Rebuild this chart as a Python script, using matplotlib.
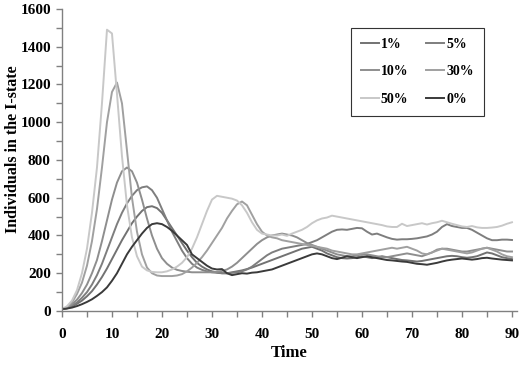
import matplotlib
matplotlib.use("Agg")
import matplotlib.pyplot as plt
from matplotlib.ticker import MultipleLocator

# Time steps 0..90
time = list(range(91))

inf_50 = [10, 25, 55, 110, 200, 330, 520, 760, 1100, 1490, 1470,
          1150, 820, 560, 390, 290, 235, 215, 207, 205, 205,
          210, 220, 235, 255, 285, 330, 390, 460, 530, 590,
          610, 605, 600, 595, 585, 560, 520, 470, 430, 410,
          405, 400, 400, 405, 398, 410, 420, 430, 445, 465,
          480, 490, 495, 505, 500, 495, 490, 485, 480, 475,
          470, 465, 460, 455, 448, 445, 445, 462, 450, 455,
          460, 465, 458, 465, 470, 478, 470, 462, 455, 448,
          445, 450, 443, 440, 440, 442, 445, 452, 462, 470]

inf_30 = [10, 20, 45, 90, 150, 240, 370, 540, 760, 1000, 1160,
          1210, 1100, 850, 600, 420, 300, 230, 200, 188, 185,
          185, 185, 188, 195, 210, 230, 255, 285, 320, 360,
          400, 440, 490, 530, 565, 580, 560, 510, 460, 420,
          400, 390, 385, 375, 370, 365, 360, 355, 350, 345,
          340, 335, 330, 320, 315, 310, 305, 300, 300, 305,
          310, 315, 320, 325, 330, 335, 330, 335, 340, 330,
          320, 305, 300, 310, 320, 330, 325, 320, 315, 310,
          305, 310, 320, 330, 335, 325, 315, 300, 290, 285]

inf_10 = [10, 18, 35, 60, 95, 140, 200, 270, 370, 480, 590,
          680, 740, 760, 740, 680, 590, 490, 400, 330, 280,
          250, 230, 218, 212, 208, 205, 205, 205, 205, 205,
          207, 212, 220, 235, 255, 280, 305, 330, 355, 375,
          390, 400, 405, 410, 405, 400, 390, 375, 360, 350,
          340, 330, 320, 310, 300, 295, 290, 290, 295, 300,
          300, 295, 290, 285, 285, 290, 295, 300, 305, 300,
          295, 290, 300, 310, 325, 330, 330, 325, 320, 315,
          315, 320, 325, 330, 335, 330, 325, 320, 315, 315]

inf_5 = [10, 15, 28, 45, 70, 100, 140, 190, 250, 320, 390,
         460, 520, 570, 610, 640, 655, 660, 640, 600, 540,
         480, 420, 370, 320, 280, 250, 230, 218, 210, 205,
         202, 200, 200, 202, 205, 210, 220, 235, 255, 275,
         295, 310, 320, 330, 335, 340, 345, 350, 355, 365,
         375, 390, 405, 420, 430, 432, 430, 435, 440, 438,
         420, 405, 410, 400, 390, 382, 378, 380, 380, 382,
         385, 390, 395, 405, 420, 445, 460, 450, 445, 440,
         440, 430, 415, 400, 385, 375, 375, 378, 378, 376]

inf_1 = [10, 14, 24, 38, 55, 78, 105, 140, 180, 225, 275,
         325, 375, 420, 465, 500, 530, 550, 555, 545, 520,
         480, 440, 400, 360, 320, 285, 255, 235, 220, 210,
         205, 200, 200, 205, 210, 215, 222, 230, 240, 250,
         260, 270, 280, 290, 300, 310, 320, 330, 335, 340,
         330, 320, 305, 295, 285, 280, 278, 280, 285, 290,
         285, 280, 285, 290, 285, 280, 275, 270, 268, 265,
         262, 265, 270, 275, 280, 285, 290, 292, 290, 285,
         282, 285, 290, 300, 310, 305, 295, 285, 280, 275]

inf_0 = [10, 13, 18, 26, 36, 48, 62, 80, 100, 125, 160,
         200, 250, 300, 340, 375, 410, 440, 460, 465, 460,
         445, 425, 400, 375, 350, 300, 280, 260, 240, 225,
         220, 222, 200, 190, 195, 200, 198, 203, 205, 210,
         215, 220, 230, 240, 250, 260, 270, 280, 290, 300,
         305, 300, 290, 280, 275, 282, 290, 285, 280, 285,
         290, 285, 280, 275, 270, 268, 265, 262, 260, 255,
         250, 248, 245, 250, 255, 262, 268, 272, 275, 278,
         275, 272, 275, 280, 282, 278, 275, 272, 270, 268]

series = [
    ("1%", inf_1, "#727272"),
    ("5%", inf_5, "#7e7e7e"),
    ("10%", inf_10, "#8e8e8e"),
    ("30%", inf_30, "#a0a0a0"),
    ("50%", inf_50, "#c8c8c8"),
    ("0%", inf_0, "#3a3a3a"),
]

plt.rcParams["font.family"] = ["Liberation Serif", "DejaVu Serif"]
plt.rcParams["font.weight"] = "bold"

fig = plt.figure(figsize=(5.23, 3.72), dpi=100)
ax = fig.add_axes([0.1185, 0.164, 0.870, 0.812])

handles = {}
for name, vals, col in series:
    (h,) = ax.plot(time, vals, color=col, lw=1.4, label=name)
    handles[name] = h

ax.set_xlim(0, 91)
ax.set_ylim(0, 1600)
ax.xaxis.set_major_locator(MultipleLocator(10))
ax.xaxis.set_minor_locator(MultipleLocator(5))
ax.yaxis.set_major_locator(MultipleLocator(200))
ax.yaxis.set_minor_locator(MultipleLocator(100))

for side in ("top", "right"):
    ax.spines[side].set_visible(False)
for side in ("left", "bottom"):
    ax.spines[side].set_color("#808080")
    ax.spines[side].set_linewidth(1.0)
ax.tick_params(which="both", direction="out", length=4, width=1.0, color="#808080")
ax.tick_params(axis="y", which="major", labelsize=11, pad=4)
ax.tick_params(axis="x", which="major", labelsize=11, pad=8)
for lab in ax.get_xticklabels() + ax.get_yticklabels():
    lab.set_fontweight("bold")

ax.set_xlabel("Time", fontsize=12, fontweight="bold")
ax.set_ylabel("Individuals in the I-state", fontsize=11.5, fontweight="bold")
ax.xaxis.set_label_coords(0.5, -0.113)
ax.yaxis.set_label_coords(-0.09, 0.536)

order = ["1%", "10%", "50%", "5%", "30%", "0%"]
leg = ax.legend([handles[k] for k in order], order, ncol=2,
                loc="upper left", bbox_to_anchor=(0.635, 0.937),
                borderaxespad=0,
                fancybox=False, framealpha=1, edgecolor="#333333",
                handlelength=1.3, handletextpad=0.15, labelspacing=1.05,
                columnspacing=1.3, borderpad=0.7, fontsize=10)
leg.get_frame().set_linewidth(0.8)

fig.savefig("out.png", dpi=100)
